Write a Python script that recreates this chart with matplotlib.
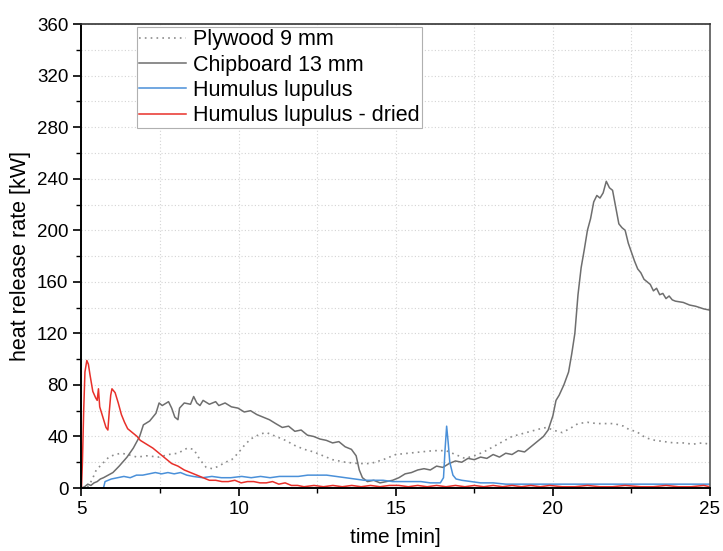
import numpy as np
import matplotlib
matplotlib.use('Agg')
import matplotlib.pyplot as plt

plt.rcParams['font.family'] = ['Liberation Sans', 'DejaVu Sans']

# (time [min], heat release rate [kW])
plywood = [(5.0, 0), (5.2, 1), (5.33, 6), (5.47, 14), (5.67, 19), (5.87, 24), (6.07, 26), (6.27, 27),
           (6.47, 26), (6.77, 24), (7.07, 25), (7.47, 24), (7.77, 26), (8.07, 27), (8.37, 31),
           (8.57, 30), (8.77, 22), (8.97, 16), (9.17, 15), (9.37, 17), (9.58, 20), (9.78, 22),
           (9.98, 27), (10.18, 33), (10.38, 38), (10.69, 42), (10.89, 43), (11.09, 41), (11.29, 39),
           (11.49, 37), (11.79, 33), (12.09, 30), (12.39, 28), (12.69, 25), (12.99, 22), (13.4, 20),
           (13.8, 19), (14.2, 19), (14.6, 22), (15.0, 26), (15.4, 27), (15.8, 28), (16.2, 29),
           (16.6, 29), (16.9, 26), (17.2, 23), (17.5, 25), (17.8, 28), (18.1, 32), (18.4, 36),
           (18.7, 40), (19.0, 42), (19.3, 44), (19.6, 46), (19.8, 47), (20.0, 45), (20.3, 43),
           (20.6, 47), (20.8, 50), (21.1, 51), (21.4, 50), (21.7, 50), (21.95, 50), (22.25, 48),
           (22.45, 45), (22.65, 44), (22.95, 39), (23.25, 37), (23.55, 36), (23.85, 35), (24.15, 35),
           (24.45, 34), (24.75, 35), (25.0, 34)]

chipboard = [(5.0, 0), (5.1, 1), (5.2, 3), (5.3, 2), (5.4, 4), (5.5, 5), (5.6, 7), (5.7, 8),
             (5.85, 10), (6.0, 12), (6.2, 17), (6.45, 24), (6.65, 31), (6.85, 40), (6.97, 49),
             (7.17, 52), (7.37, 58), (7.47, 66), (7.57, 64), (7.77, 67), (7.87, 62), (7.97, 55),
             (8.07, 53), (8.12, 62), (8.27, 66), (8.47, 65), (8.57, 71), (8.67, 66), (8.77, 64),
             (8.87, 68), (9.07, 65), (9.27, 67), (9.37, 64), (9.57, 66), (9.77, 63), (9.98, 62),
             (10.18, 59), (10.38, 60), (10.58, 57), (10.78, 55), (10.98, 53), (11.18, 50), (11.39, 47),
             (11.59, 48), (11.79, 44), (11.99, 45), (12.19, 41), (12.39, 40), (12.59, 38), (12.79, 37),
             (12.99, 35), (13.19, 36), (13.39, 32), (13.59, 30), (13.74, 25), (13.84, 14), (13.94, 8),
             (14.1, 5), (14.3, 6), (14.5, 4), (14.7, 5), (14.9, 6), (15.1, 8), (15.3, 11), (15.5, 12),
             (15.7, 14), (15.9, 15), (16.1, 14), (16.3, 17), (16.5, 16), (16.7, 19), (16.9, 21),
             (17.1, 20), (17.3, 23), (17.5, 22), (17.7, 24), (17.9, 23), (18.1, 26), (18.3, 24),
             (18.5, 27), (18.7, 26), (18.9, 29), (19.1, 28), (19.3, 32), (19.5, 36), (19.7, 40),
             (19.85, 45), (20.0, 56), (20.1, 68), (20.2, 72), (20.35, 80), (20.5, 90), (20.6, 104),
             (20.7, 120), (20.8, 150), (20.9, 171), (21.0, 185), (21.1, 200), (21.2, 209), (21.3, 222),
             (21.4, 227), (21.5, 225), (21.6, 229), (21.7, 238), (21.8, 233), (21.9, 231), (22.0, 218),
             (22.1, 205), (22.2, 202), (22.3, 200), (22.4, 190), (22.5, 183), (22.6, 176), (22.7, 170),
             (22.8, 167), (22.9, 162), (23.0, 160), (23.1, 158), (23.2, 153), (23.3, 155), (23.4, 150),
             (23.5, 151), (23.6, 147), (23.7, 149), (23.8, 146), (23.9, 145), (24.15, 144),
             (24.35, 142), (24.55, 141), (24.8, 139), (25.0, 138)]

humulus = [(5.7, 0), (5.75, 5), (5.95, 7), (6.15, 8), (6.35, 9), (6.55, 8), (6.75, 10), (6.95, 10),
           (7.15, 11), (7.35, 12), (7.55, 11), (7.75, 12), (7.95, 11), (8.15, 12), (8.35, 10),
           (8.55, 9), (8.85, 8), (9.15, 9), (9.45, 8), (9.75, 8), (10.1, 9), (10.4, 8), (10.7, 9),
           (11.0, 8), (11.3, 9), (11.6, 9), (11.9, 9), (12.2, 10), (12.5, 10), (12.8, 10), (13.1, 9),
           (13.4, 8), (13.7, 7), (14.0, 6), (14.3, 6), (14.6, 6), (14.9, 5), (15.2, 5), (15.5, 5),
           (15.8, 5), (16.1, 4), (16.42, 4), (16.52, 8), (16.57, 30), (16.62, 48), (16.67, 35),
           (16.72, 20), (16.82, 10), (16.92, 7), (17.1, 6), (17.4, 5), (17.7, 4), (18.1, 4), (18.5, 3),
           (18.9, 3), (19.4, 3), (19.9, 3), (20.4, 3), (20.9, 3), (21.45, 3), (21.95, 3), (22.45, 3),
           (22.95, 3), (23.5, 3), (24.0, 3), (24.5, 3), (25.0, 3)]

humulus_dried = [(5.0, 0), (5.03, 20), (5.07, 60), (5.11, 90), (5.17, 99), (5.22, 96), (5.27, 88),
                 (5.36, 75), (5.45, 70), (5.5, 68), (5.54, 77), (5.58, 63), (5.68, 55), (5.78, 47),
                 (5.84, 45), (5.88, 58), (5.93, 72), (5.97, 77), (6.07, 74), (6.17, 66), (6.27, 57),
                 (6.37, 51), (6.47, 46), (6.57, 44), (6.67, 42), (6.77, 40), (6.87, 37), (7.07, 34),
                 (7.27, 31), (7.47, 27), (7.67, 23), (7.87, 19), (8.07, 17), (8.27, 14), (8.47, 12),
                 (8.67, 10), (8.87, 8), (9.07, 6), (9.27, 6), (9.47, 5), (9.67, 5), (9.88, 6), (10.08, 4),
                 (10.28, 5), (10.48, 5), (10.68, 4), (10.88, 4), (11.08, 5), (11.28, 3), (11.48, 4),
                 (11.68, 2), (11.88, 2), (12.08, 1), (12.4, 2), (12.7, 1), (13.0, 2), (13.3, 1),
                 (13.6, 2), (13.9, 1), (14.2, 2), (14.5, 1), (14.8, 2), (15.1, 2), (15.4, 1), (15.7, 2),
                 (16.0, 1), (16.3, 2), (16.6, 1), (16.9, 2), (17.2, 1), (17.5, 2), (17.8, 1), (18.1, 2),
                 (18.4, 1), (18.7, 2), (19.0, 1), (19.3, 2), (19.6, 1), (19.9, 2), (20.3, 1), (20.7, 1),
                 (21.1, 2), (21.5, 1), (21.9, 1), (22.3, 2), (22.8, 1), (23.2, 1), (23.6, 2), (24.0, 1),
                 (24.4, 1), (24.8, 2), (25.0, 1)]

fig = plt.figure(figsize=(7.23, 5.51), dpi=100)
ax = fig.add_axes([0.1127, 0.1143, 0.8693, 0.842])

t, q = zip(*plywood)
ax.plot(t, q, color='#8c8c8c', lw=1.2, linestyle=(0, (1, 2.5)), label='Plywood 9 mm')
t, q = zip(*chipboard)
ax.plot(t, q, color='#6e6e6e', lw=1.1, label='Chipboard 13 mm')
t, q = zip(*humulus)
ax.plot(t, q, color='#4a90d9', lw=1.1, label='Humulus lupulus')
t, q = zip(*humulus_dried)
ax.plot(t, q, color='#e8302a', lw=1.1, label='Humulus lupulus - dried')

ax.set_xlim(5, 25)
ax.set_ylim(0, 360)
ax.set_xticks([5, 10, 15, 20, 25])
ax.set_xticks(np.arange(7.5, 25, 5), minor=True)
ax.set_yticks(np.arange(0, 361, 40))
ax.set_yticks(np.arange(20, 360, 40), minor=True)
ax.tick_params(which='major', direction='out', length=6, width=1.2, labelsize=13.5)
ax.tick_params(which='minor', direction='out', length=3.5, width=1)
ax.grid(True, which='both', color='#d4d4d4', linestyle=(0, (1, 2)), lw=0.8)
ax.set_axisbelow(True)

for s in ['left', 'bottom']:
    ax.spines[s].set_linewidth(1.4)
ax.spines['top'].set_linewidth(1.2)
ax.spines['right'].set_linewidth(1.2)
ax.spines['right'].set_color('#555555')
ax.spines['top'].set_color('#333333')

ax.set_xlabel('time [min]', fontsize=15, labelpad=7)
ax.set_ylabel('heat release rate [kW]', fontsize=15.5, labelpad=4)

leg = ax.legend(loc='upper left', bbox_to_anchor=(0.0883, 0.9935), fontsize=15.5, frameon=True,
                fancybox=False, edgecolor='#b0b0b0', framealpha=1, handlelength=2.2,
                borderpad=0.1, labelspacing=0.2, handletextpad=0.3, borderaxespad=0)
leg.get_frame().set_linewidth(0.8)

fig.savefig('out.png', dpi=100)
